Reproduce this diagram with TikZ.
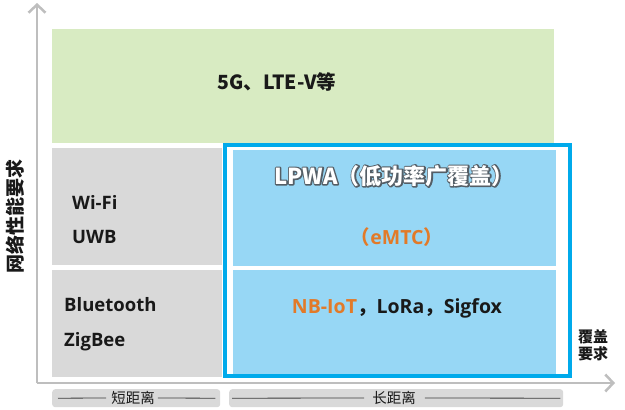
\documentclass[tikz,border=0pt]{standalone}
\usepackage{fontspec}
\setmainfont{Open Sans}
\newfontfamily\cjk{Noto Sans CJK SC}
\usetikzlibrary{arrows.meta}
\definecolor{cgreen}{RGB}{216,235,194}
\definecolor{cgray}{RGB}{217,217,217}
\definecolor{cblue}{RGB}{151,215,245}
\definecolor{cborder}{RGB}{0,170,235}
\definecolor{corange}{RGB}{226,122,40}
\definecolor{caxis}{RGB}{190,190,190}
\definecolor{ctext}{RGB}{25,25,25}
\definecolor{outl}{RGB}{84,94,102}
\newcommand\outlinetext[1]{\rlap{\color{outl}\special{pdf:code 1 Tr 2.6 w 1 j}#1\special{pdf:code 0 Tr}}{\color{white}#1}}
\begin{document}
\begin{tikzpicture}[x=1pt,y=-1pt,
  cellbox/.style={anchor=north west,inner sep=0pt,outer sep=0pt,draw=none},
  bigtxt/.style={text=ctext,font=\bfseries\fontsize{18.5}{22}\selectfont,inner sep=0pt},
  cjktxt/.style={text=ctext,font=\cjk\bfseries\fontsize{19.5}{22}\selectfont,inner sep=0pt},
  axis/.style={draw=caxis,line width=2.5pt,-{Straight Barb[length=8pt,width=17pt,line width=2.5pt]}},
  tagbox/.style={anchor=north west,fill=cgray,rounded corners=3pt,inner sep=0pt,minimum height=18pt},
  tagtxt/.style={text=ctext,font=\cjk\fontsize{14.5}{16}\selectfont,inner sep=0pt},
  tagline/.style={draw=ctext!85,line width=0.8pt}]
\useasboundingbox (0,0) rectangle (625,410);
\fill[white] (0,0) rectangle (625,410);

% axes
\coordinate (O) at (37,383);
\coordinate (Ytip) at (37,3);
\coordinate (Xtip) at (615,383);
\draw[axis] (O) -- (Ytip);
\draw[axis] (O) -- (Xtip);

% cells
\node[cellbox,fill=cgreen,minimum width=502pt,minimum height=114pt] (green) at (52,29) {};
\node[cellbox,fill=cgray,minimum width=170pt,minimum height=117pt] (gray1) at (52,148) {};
\node[cellbox,fill=cgray,minimum width=170pt,minimum height=107pt] (gray2) at (52,270) {};
\node[cellbox,fill=white,draw=cborder,line width=4pt,minimum width=345pt,minimum height=231pt] (lpwabox) at (225,145) {};
\node[cellbox,fill=cblue,minimum width=323pt,minimum height=116pt] (blue1) at (233,150) {};
\node[cellbox,fill=cblue,minimum width=323pt,minimum height=104pt] (blue2) at (233,270) {};

% texts
\node[cjktxt] (t5g) at (277,82) {5G、LTE-V等};
\node[bigtxt,anchor=west] (wifi) at (72,202) {Wi-Fi};
\node[bigtxt,anchor=west] (uwb) at (72,237) {UWB};
\node[bigtxt,anchor=west] (bt) at (64,305) {Bluetooth};
\node[bigtxt,anchor=west] (zb) at (64,342) {ZigBee};
\node[font=\cjk\bfseries\fontsize{22}{24}\selectfont,inner sep=0pt] (lpwa) at (394,176) {\outlinetext{LPWA（低功率广覆盖）}};
\node[bigtxt,text=corange,font=\bfseries\fontsize{19.5}{22}\selectfont] (emtc) at (397,237) {{\cjk （}eMTC{\cjk ）}};
\node[bigtxt,font=\bfseries\fontsize{19.5}{22}\selectfont] (nb) at (397,308) {\textcolor{corange}{NB-IoT}{\cjk ，}LoRa{\cjk ，}Sigfox};

% axis labels
\node[cjktxt,rotate=90,font=\cjk\bfseries\fontsize{19}{19}\selectfont] (ylab) at (15,216) {网络性能要求};
\node[cjktxt,align=left,font=\cjk\bfseries\fontsize{15}{17}\selectfont] (xlab) at (593,345) {覆盖\\要求};

% range tags
\node[tagbox,minimum width=168pt] (sbox) at (52,389) {};
\node[tagtxt] (stxt) at (133,398) {短距离};
\draw[tagline] ([xshift=6pt]sbox.west) -- ([xshift=-5pt]stxt.west);
\draw[tagline] ([xshift=3pt]stxt.east) -- ([xshift=-5pt]sbox.east);
\node[tagbox,minimum width=334pt] (lbox) at (229,389) {};
\node[tagtxt] (ltxt) at (394,398) {长距离};
\draw[tagline] ([xshift=3pt]lbox.west) -- ([xshift=-8pt]ltxt.west);
\draw[tagline] ([xshift=9pt]ltxt.east) -- ([xshift=-3pt]lbox.east);
\end{tikzpicture}
\end{document}
